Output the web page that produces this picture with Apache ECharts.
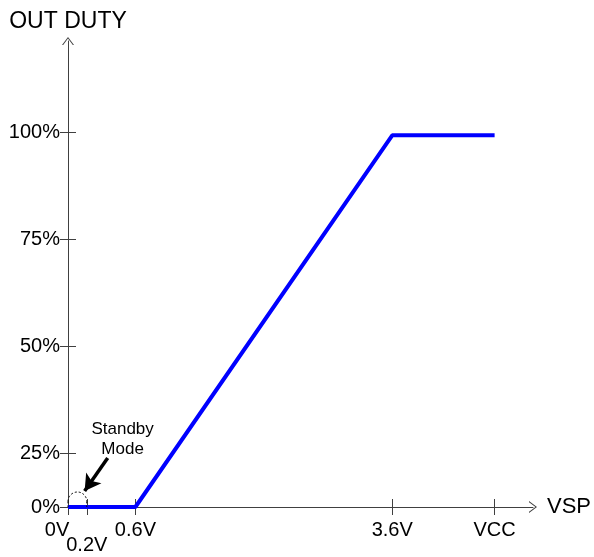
<!DOCTYPE html>
<html>
<head>
<meta charset="utf-8">
<title>OUT DUTY - VSP</title>
<script src="https://cdn.jsdelivr.net/npm/echarts@6/dist/echarts.min.js"></script>
<style>
  html, body { margin: 0; padding: 0; background: #fff; }
  #chart { width: 594px; height: 557px; }
</style>
</head>
<body>
<div id="chart"></div>
<script>
  // schematic chart: tick positions are drawing units, the scale is not linear in V / %
  var xTickPos = [0, 0.22, 0.79, 3.8, 5.0];
  var xTickLabels = ['0V', '0.2V', '0.6V', '3.6V', 'VCC'];
  var yTickPos = [0, 0.5, 1.5, 2.5, 3.5];
  var yTickLabels = ['0%', '25%', '50%', '75%', '100%'];

  // duty curve: 0% up to 0.6V, ramp to 100% at 3.6V, flat until VCC
  var dutyX = [0, 0.79, 3.8, 5.0];
  var dutyY = [0, 0, 3.47, 3.47];

  // standby mode note
  var standbyText = 'Standby\nMode';
  var standbyTextAt = [0.64, 0.82];
  var standbyArrow = [[0.465, 0.457], [0.195, 0.15]];
  var standbyArchTop = 0.14;

  var FONT = '"Liberation Sans", Arial, Helvetica, sans-serif';
  var AXIS = '#404040';
  var ARROW = 'path://M0,8L6,0L12,8L10.8,8L6,1.6L1.2,8Z';

  function findIdx(arr, v) {
    for (var i = 0; i < arr.length; i++) {
      if (Math.abs(arr[i] - v) < 1e-6) return i;
    }
    return -1;
  }

  var dutyData = dutyX.map(function (x, i) {
    return [x, dutyY[i]];
  });

  // the 0.2V label sits one row lower, it goes on the second x axis
  var lowIdx = 1;
  var xMainLabelPos = xTickPos.filter(function (v, i) { return i !== lowIdx; });
  var xLowLabelPos = [xTickPos[lowIdx]];

  function xLabel(v) {
    var i = findIdx(xTickPos, v);
    if (i < 0) return '';
    if (i === 0) return '{zero|' + xTickLabels[i] + '}';
    return '{base|' + xTickLabels[i] + '}';
  }

  var xRich = {
    base: { fontFamily: FONT, fontSize: 20, color: '#000' },
    zero: { fontFamily: FONT, fontSize: 20, color: '#000', padding: [0, 22, 0, 0] }
  };

  var tickStyle = { color: AXIS, width: 1 };

  var option = {
    animation: false,
    grid: {
      left: 68,
      right: 61,
      top: 41,
      bottom: 50,
      containLabel: false,
      outerBoundsMode: 'none'
    },
    xAxis: [{
      type: 'value',
      min: 0,
      max: 5.45,
      position: 'bottom',
      name: 'VSP',
      nameLocation: 'end',
      nameGap: 14,
      nameMoveOverlap: false,
      nameTextStyle: { fontFamily: FONT, fontSize: 22, color: '#000' },
      axisLine: {
        show: true,
        onZero: false,
        symbol: ['none', ARROW],
        symbolSize: [12, 8],
        lineStyle: tickStyle
      },
      axisTick: { show: true, inside: false, length: 8, customValues: xTickPos, lineStyle: tickStyle },
      axisLabel: {
        show: true,
        customValues: xMainLabelPos,
        showMinLabel: true,
        showMaxLabel: true,
        hideOverlap: false,
        margin: 13,
        formatter: xLabel,
        rich: xRich
      },
      splitLine: { show: false }
    }, {
      // second axis: upper half of the crossing ticks + the lowered 0.2V label
      type: 'value',
      min: 0,
      max: 5.45,
      position: 'bottom',
      axisLine: { show: false, onZero: false },
      axisTick: { show: true, inside: true, length: 8, customValues: xTickPos, lineStyle: tickStyle },
      axisLabel: {
        show: true,
        customValues: xLowLabelPos,
        showMinLabel: true,
        showMaxLabel: true,
        margin: 28,
        formatter: xLabel,
        rich: xRich
      },
      splitLine: { show: false }
    }],
    yAxis: [{
      type: 'value',
      min: 0,
      max: 4.35,
      position: 'left',
      name: 'OUT DUTY',
      nameLocation: 'end',
      nameGap: 8,
      nameMoveOverlap: false,
      nameTextStyle: { fontFamily: FONT, fontSize: 23, color: '#000' },
      axisLine: {
        show: true,
        onZero: false,
        symbol: ['none', ARROW],
        symbolSize: [12, 8],
        lineStyle: tickStyle
      },
      axisTick: { show: true, inside: false, length: 8, customValues: yTickPos, lineStyle: tickStyle },
      axisLabel: {
        show: true,
        customValues: yTickPos,
        showMinLabel: true,
        showMaxLabel: true,
        margin: 8,
        fontFamily: FONT,
        fontSize: 20,
        color: '#000',
        formatter: function (v) {
          var i = findIdx(yTickPos, v);
          return i < 0 ? '' : yTickLabels[i];
        }
      },
      splitLine: { show: false }
    }, {
      type: 'value',
      min: 0,
      max: 4.35,
      position: 'left',
      axisLine: { show: false, onZero: false },
      axisTick: { show: true, inside: true, length: 8, customValues: yTickPos, lineStyle: tickStyle },
      axisLabel: { show: false },
      splitLine: { show: false }
    }],
    series: [{
      name: 'duty',
      type: 'line',
      xAxisIndex: 0,
      yAxisIndex: 0,
      data: dutyData,
      symbol: 'none',
      z: 5,
      lineStyle: { color: '#0000ff', width: 4 },
      markLine: {
        silent: true,
        animation: false,
        symbol: ['none', 'arrow'],
        symbolSize: [14, 16],
        lineStyle: { color: '#000', width: 3.5, type: 'solid' },
        label: { show: false },
        emphasis: { disabled: true },
        data: [[{ coord: standbyArrow[0] }, { coord: standbyArrow[1] }]]
      }
    }, {
      name: 'standby',
      type: 'custom',
      xAxisIndex: 0,
      yAxisIndex: 0,
      clip: false,
      silent: true,
      z: 6,
      data: [[0, 0]],
      renderItem: function (params, api) {
        var p0 = api.coord([xTickPos[0], 0]);
        var p1 = api.coord([xTickPos[1], 0]);
        var top = api.coord([0, standbyArchTop])[1];
        var r = (p1[0] - p0[0]) / 2;
        var cx = p0[0] + r;
        var cy = top + r;
        var t = api.coord(standbyTextAt);
        var dash = { stroke: '#000', lineWidth: 1, lineDash: [2, 2], fill: 'none' };
        return {
          type: 'group',
          children: [
            { type: 'arc', shape: { cx: cx, cy: cy, r: r, startAngle: Math.PI, endAngle: 2 * Math.PI, clockwise: true }, style: dash },
            { type: 'line', shape: { x1: p0[0], y1: cy, x2: p0[0], y2: p0[1] }, style: dash },
            { type: 'line', shape: { x1: p1[0], y1: cy, x2: p1[0], y2: p0[1] }, style: dash },
            {
              type: 'text',
              x: t[0],
              y: t[1],
              style: {
                text: standbyText,
                fontFamily: FONT,
                fontSize: 17,
                lineHeight: 20,
                align: 'center',
                verticalAlign: 'top',
                fill: '#000'
              }
            }
          ]
        };
      }
    }]
  };

  var myChart = echarts.init(document.getElementById('chart'));
  myChart.setOption(option, true);
</script>
</body>
</html>
